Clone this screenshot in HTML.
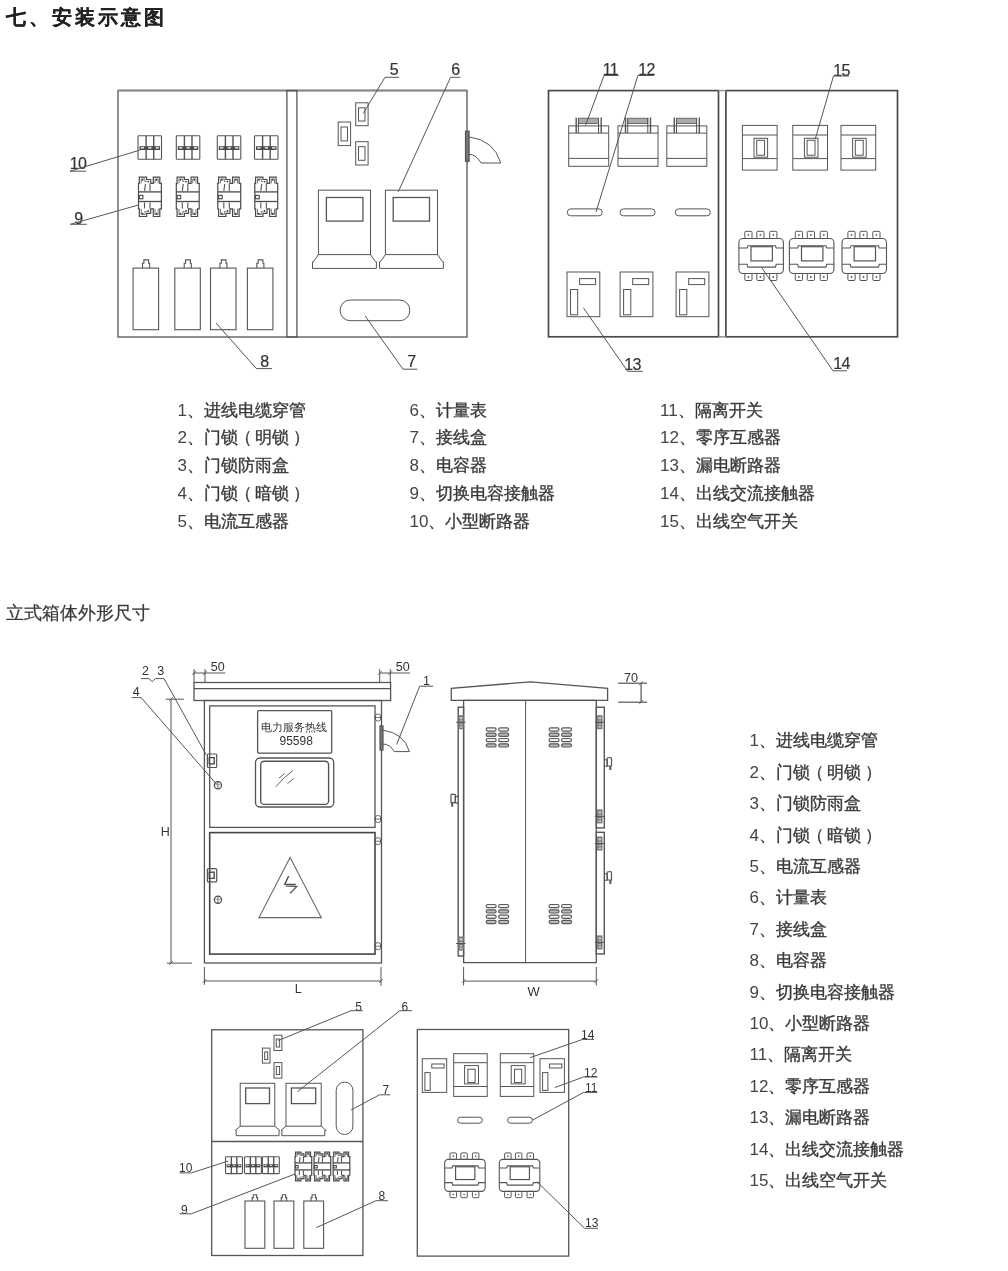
<!DOCTYPE html>
<html><head><meta charset="utf-8"><style>
html,body{margin:0;padding:0;background:#fff;}
body{width:1008px;height:1271px;overflow:hidden;position:relative;}
svg{position:absolute;left:0;top:0;will-change:transform;}
text{font-family:"Liberation Sans",sans-serif;}
.ns *{vector-effect:non-scaling-stroke;}
</style></head><body>
<svg width="1008" height="1271" viewBox="0 0 1008 1271">
<text x="6" y="24" font-size="20" fill="#222" font-weight="bold" text-anchor="start" letter-spacing="3" stroke="#222" stroke-width="0.12">七、安装示意图</text>
<rect x="118" y="90.5" width="349" height="246.5" rx="0" fill="none" stroke="#555" stroke-width="1.3"/>
<line x1="118" y1="90.5" x2="467" y2="90.5" stroke="#888" stroke-width="1.8"/>
<rect x="286.9" y="90.6" width="10.0" height="246.4" rx="0" fill="none" stroke="#555" stroke-width="1.3"/>
<rect x="138" y="135.8" width="23.5" height="23.5" rx="0.8" fill="none" stroke="#555" stroke-width="1.1"/>
<line x1="146.1" y1="135.8" x2="146.1" y2="159.3" stroke="#555" stroke-width="1.4"/>
<line x1="153.7" y1="135.8" x2="153.7" y2="159.3" stroke="#555" stroke-width="1.4"/>
<rect x="139.5" y="146.20000000000002" width="20.5" height="3.8" fill="#4a4a4a"/>
<rect x="140.8" y="147.0" width="3.2" height="1.6" fill="#ddd"/>
<rect x="148.3" y="147.0" width="3.2" height="1.6" fill="#ddd"/>
<rect x="155.7" y="147.0" width="3.2" height="1.6" fill="#ddd"/>
<rect x="176.3" y="135.8" width="23.5" height="23.5" rx="0.8" fill="none" stroke="#555" stroke-width="1.1"/>
<line x1="184.4" y1="135.8" x2="184.4" y2="159.3" stroke="#555" stroke-width="1.4"/>
<line x1="192.0" y1="135.8" x2="192.0" y2="159.3" stroke="#555" stroke-width="1.4"/>
<rect x="177.8" y="146.20000000000002" width="20.5" height="3.8" fill="#4a4a4a"/>
<rect x="179.10000000000002" y="147.0" width="3.2" height="1.6" fill="#ddd"/>
<rect x="186.60000000000002" y="147.0" width="3.2" height="1.6" fill="#ddd"/>
<rect x="194.0" y="147.0" width="3.2" height="1.6" fill="#ddd"/>
<rect x="217.3" y="135.8" width="23.5" height="23.5" rx="0.8" fill="none" stroke="#555" stroke-width="1.1"/>
<line x1="225.4" y1="135.8" x2="225.4" y2="159.3" stroke="#555" stroke-width="1.4"/>
<line x1="233.0" y1="135.8" x2="233.0" y2="159.3" stroke="#555" stroke-width="1.4"/>
<rect x="218.8" y="146.20000000000002" width="20.5" height="3.8" fill="#4a4a4a"/>
<rect x="220.10000000000002" y="147.0" width="3.2" height="1.6" fill="#ddd"/>
<rect x="227.60000000000002" y="147.0" width="3.2" height="1.6" fill="#ddd"/>
<rect x="235.0" y="147.0" width="3.2" height="1.6" fill="#ddd"/>
<rect x="254.5" y="135.8" width="23.5" height="23.5" rx="0.8" fill="none" stroke="#555" stroke-width="1.1"/>
<line x1="262.6" y1="135.8" x2="262.6" y2="159.3" stroke="#555" stroke-width="1.4"/>
<line x1="270.2" y1="135.8" x2="270.2" y2="159.3" stroke="#555" stroke-width="1.4"/>
<rect x="256.0" y="146.20000000000002" width="20.5" height="3.8" fill="#4a4a4a"/>
<rect x="257.3" y="147.0" width="3.2" height="1.6" fill="#ddd"/>
<rect x="264.8" y="147.0" width="3.2" height="1.6" fill="#ddd"/>
<rect x="272.2" y="147.0" width="3.2" height="1.6" fill="#ddd"/>
<path d="M138.5,183.4 L139.3,183.4 L139.3,177.1 L146.6,177.1 L146.6,179.5 L150.7,179.5 L150.7,183.4 L153.3,183.4 L153.3,177.1 L159.8,177.1 L159.8,183.4 L161.4,183.4 L161.4,208.8 L159.8,208.8 L159.8,216.5 L153.3,216.5 L153.3,208.8 L150.7,208.8 L150.7,213.3 L146.6,213.3 L146.6,216.5 L139.3,216.5 L139.3,208.8 L138.5,208.8 Z" fill="none" stroke="#4a4a4a" stroke-width="1.2"/>
<path d="M141.2,183.4 L141.2,179.0 L145.0,179.0 L145.0,181.5 L146.6,181.5" fill="none" stroke="#666" stroke-width="0.9"/>
<path d="M155.0,183.4 L155.0,179.0 L158.2,179.0 L158.2,183.4" fill="none" stroke="#666" stroke-width="0.9"/>
<path d="M141.2,208.8 L141.2,214.6 L145.0,214.6 L145.0,211.5 L146.6,211.5" fill="none" stroke="#666" stroke-width="0.9"/>
<path d="M155.0,208.8 L155.0,214.6 L158.2,214.6 L158.2,208.8" fill="none" stroke="#666" stroke-width="0.9"/>
<line x1="138.5" y1="191.9" x2="161.4" y2="191.9" stroke="#4a4a4a" stroke-width="1.3"/>
<line x1="138.5" y1="201.5" x2="161.4" y2="201.5" stroke="#4a4a4a" stroke-width="1.3"/>
<rect x="139.3" y="195.4" width="3.6" height="3.4" rx="0" fill="none" stroke="#444" stroke-width="1.1"/>
<line x1="145.5" y1="183.9" x2="144.5" y2="190.9" stroke="#555" stroke-width="1.1"/>
<line x1="150.0" y1="183.4" x2="150.0" y2="190.9" stroke="#555" stroke-width="1.1"/>
<line x1="144.5" y1="202.4" x2="144.5" y2="208.4" stroke="#555" stroke-width="1.1"/>
<line x1="150.0" y1="202.4" x2="150.0" y2="208.4" stroke="#555" stroke-width="1.1"/>
<circle cx="142.6" cy="179.8" r="0.9" fill="#333"/>
<circle cx="148.2" cy="181.6" r="0.9" fill="#333"/>
<circle cx="156.5" cy="179.8" r="0.9" fill="#333"/>
<circle cx="142.6" cy="213.6" r="0.9" fill="#333"/>
<circle cx="148.2" cy="211.0" r="0.9" fill="#333"/>
<circle cx="156.5" cy="213.6" r="0.9" fill="#333"/>
<path d="M176.3,183.4 L177.1,183.4 L177.1,177.1 L184.4,177.1 L184.4,179.5 L188.5,179.5 L188.5,183.4 L191.1,183.4 L191.1,177.1 L197.6,177.1 L197.6,183.4 L199.2,183.4 L199.2,208.8 L197.6,208.8 L197.6,216.5 L191.1,216.5 L191.1,208.8 L188.5,208.8 L188.5,213.3 L184.4,213.3 L184.4,216.5 L177.1,216.5 L177.1,208.8 L176.3,208.8 Z" fill="none" stroke="#4a4a4a" stroke-width="1.2"/>
<path d="M179.0,183.4 L179.0,179.0 L182.8,179.0 L182.8,181.5 L184.4,181.5" fill="none" stroke="#666" stroke-width="0.9"/>
<path d="M192.8,183.4 L192.8,179.0 L196.0,179.0 L196.0,183.4" fill="none" stroke="#666" stroke-width="0.9"/>
<path d="M179.0,208.8 L179.0,214.6 L182.8,214.6 L182.8,211.5 L184.4,211.5" fill="none" stroke="#666" stroke-width="0.9"/>
<path d="M192.8,208.8 L192.8,214.6 L196.0,214.6 L196.0,208.8" fill="none" stroke="#666" stroke-width="0.9"/>
<line x1="176.3" y1="191.9" x2="199.20000000000002" y2="191.9" stroke="#4a4a4a" stroke-width="1.3"/>
<line x1="176.3" y1="201.5" x2="199.20000000000002" y2="201.5" stroke="#4a4a4a" stroke-width="1.3"/>
<rect x="177.10000000000002" y="195.4" width="3.6" height="3.4" rx="0" fill="none" stroke="#444" stroke-width="1.1"/>
<line x1="183.3" y1="183.9" x2="182.3" y2="190.9" stroke="#555" stroke-width="1.1"/>
<line x1="187.8" y1="183.4" x2="187.8" y2="190.9" stroke="#555" stroke-width="1.1"/>
<line x1="182.3" y1="202.4" x2="182.3" y2="208.4" stroke="#555" stroke-width="1.1"/>
<line x1="187.8" y1="202.4" x2="187.8" y2="208.4" stroke="#555" stroke-width="1.1"/>
<circle cx="180.4" cy="179.8" r="0.9" fill="#333"/>
<circle cx="186.0" cy="181.6" r="0.9" fill="#333"/>
<circle cx="194.3" cy="179.8" r="0.9" fill="#333"/>
<circle cx="180.4" cy="213.6" r="0.9" fill="#333"/>
<circle cx="186.0" cy="211.0" r="0.9" fill="#333"/>
<circle cx="194.3" cy="213.6" r="0.9" fill="#333"/>
<path d="M217.8,183.4 L218.6,183.4 L218.6,177.1 L225.9,177.1 L225.9,179.5 L230.0,179.5 L230.0,183.4 L232.6,183.4 L232.6,177.1 L239.1,177.1 L239.1,183.4 L240.7,183.4 L240.7,208.8 L239.1,208.8 L239.1,216.5 L232.6,216.5 L232.6,208.8 L230.0,208.8 L230.0,213.3 L225.9,213.3 L225.9,216.5 L218.6,216.5 L218.6,208.8 L217.8,208.8 Z" fill="none" stroke="#4a4a4a" stroke-width="1.2"/>
<path d="M220.5,183.4 L220.5,179.0 L224.3,179.0 L224.3,181.5 L225.9,181.5" fill="none" stroke="#666" stroke-width="0.9"/>
<path d="M234.3,183.4 L234.3,179.0 L237.5,179.0 L237.5,183.4" fill="none" stroke="#666" stroke-width="0.9"/>
<path d="M220.5,208.8 L220.5,214.6 L224.3,214.6 L224.3,211.5 L225.9,211.5" fill="none" stroke="#666" stroke-width="0.9"/>
<path d="M234.3,208.8 L234.3,214.6 L237.5,214.6 L237.5,208.8" fill="none" stroke="#666" stroke-width="0.9"/>
<line x1="217.8" y1="191.9" x2="240.70000000000002" y2="191.9" stroke="#4a4a4a" stroke-width="1.3"/>
<line x1="217.8" y1="201.5" x2="240.70000000000002" y2="201.5" stroke="#4a4a4a" stroke-width="1.3"/>
<rect x="218.60000000000002" y="195.4" width="3.6" height="3.4" rx="0" fill="none" stroke="#444" stroke-width="1.1"/>
<line x1="224.8" y1="183.9" x2="223.8" y2="190.9" stroke="#555" stroke-width="1.1"/>
<line x1="229.3" y1="183.4" x2="229.3" y2="190.9" stroke="#555" stroke-width="1.1"/>
<line x1="223.8" y1="202.4" x2="223.8" y2="208.4" stroke="#555" stroke-width="1.1"/>
<line x1="229.3" y1="202.4" x2="229.3" y2="208.4" stroke="#555" stroke-width="1.1"/>
<circle cx="221.9" cy="179.8" r="0.9" fill="#333"/>
<circle cx="227.5" cy="181.6" r="0.9" fill="#333"/>
<circle cx="235.8" cy="179.8" r="0.9" fill="#333"/>
<circle cx="221.9" cy="213.6" r="0.9" fill="#333"/>
<circle cx="227.5" cy="211.0" r="0.9" fill="#333"/>
<circle cx="235.8" cy="213.6" r="0.9" fill="#333"/>
<path d="M254.8,183.4 L255.6,183.4 L255.6,177.1 L262.9,177.1 L262.9,179.5 L267.0,179.5 L267.0,183.4 L269.6,183.4 L269.6,177.1 L276.1,177.1 L276.1,183.4 L277.7,183.4 L277.7,208.8 L276.1,208.8 L276.1,216.5 L269.6,216.5 L269.6,208.8 L267.0,208.8 L267.0,213.3 L262.9,213.3 L262.9,216.5 L255.6,216.5 L255.6,208.8 L254.8,208.8 Z" fill="none" stroke="#4a4a4a" stroke-width="1.2"/>
<path d="M257.5,183.4 L257.5,179.0 L261.3,179.0 L261.3,181.5 L262.9,181.5" fill="none" stroke="#666" stroke-width="0.9"/>
<path d="M271.3,183.4 L271.3,179.0 L274.5,179.0 L274.5,183.4" fill="none" stroke="#666" stroke-width="0.9"/>
<path d="M257.5,208.8 L257.5,214.6 L261.3,214.6 L261.3,211.5 L262.9,211.5" fill="none" stroke="#666" stroke-width="0.9"/>
<path d="M271.3,208.8 L271.3,214.6 L274.5,214.6 L274.5,208.8" fill="none" stroke="#666" stroke-width="0.9"/>
<line x1="254.8" y1="191.9" x2="277.7" y2="191.9" stroke="#4a4a4a" stroke-width="1.3"/>
<line x1="254.8" y1="201.5" x2="277.7" y2="201.5" stroke="#4a4a4a" stroke-width="1.3"/>
<rect x="255.60000000000002" y="195.4" width="3.6" height="3.4" rx="0" fill="none" stroke="#444" stroke-width="1.1"/>
<line x1="261.8" y1="183.9" x2="260.8" y2="190.9" stroke="#555" stroke-width="1.1"/>
<line x1="266.3" y1="183.4" x2="266.3" y2="190.9" stroke="#555" stroke-width="1.1"/>
<line x1="260.8" y1="202.4" x2="260.8" y2="208.4" stroke="#555" stroke-width="1.1"/>
<line x1="266.3" y1="202.4" x2="266.3" y2="208.4" stroke="#555" stroke-width="1.1"/>
<circle cx="258.9" cy="179.8" r="0.9" fill="#333"/>
<circle cx="264.5" cy="181.6" r="0.9" fill="#333"/>
<circle cx="272.8" cy="179.8" r="0.9" fill="#333"/>
<circle cx="258.9" cy="213.6" r="0.9" fill="#333"/>
<circle cx="264.5" cy="211.0" r="0.9" fill="#333"/>
<circle cx="272.8" cy="213.6" r="0.9" fill="#333"/>
<rect x="133.1" y="268.1" width="25.5" height="61.6" rx="0" fill="none" stroke="#555" stroke-width="1.1"/>
<path d="M142.5,268.1 L142.5,263.3 L143.9,263.3 L143.9,259.9 L148.6,259.9 L148.6,263.3 L149.6,263.3 L149.6,268.1" fill="none" stroke="#555" stroke-width="1.1"/>
<rect x="174.8" y="268.1" width="25.5" height="61.6" rx="0" fill="none" stroke="#555" stroke-width="1.1"/>
<path d="M184.20000000000002,268.1 L184.20000000000002,263.3 L185.60000000000002,263.3 L185.60000000000002,259.9 L190.3,259.9 L190.3,263.3 L191.3,263.3 L191.3,268.1" fill="none" stroke="#555" stroke-width="1.1"/>
<rect x="210.5" y="268.1" width="25.5" height="61.6" rx="0" fill="none" stroke="#555" stroke-width="1.1"/>
<path d="M219.9,268.1 L219.9,263.3 L221.3,263.3 L221.3,259.9 L226.0,259.9 L226.0,263.3 L227.0,263.3 L227.0,268.1" fill="none" stroke="#555" stroke-width="1.1"/>
<rect x="247.4" y="268.1" width="25.5" height="61.6" rx="0" fill="none" stroke="#555" stroke-width="1.1"/>
<path d="M256.8,268.1 L256.8,263.3 L258.2,263.3 L258.2,259.9 L262.9,259.9 L262.9,263.3 L263.9,263.3 L263.9,268.1" fill="none" stroke="#555" stroke-width="1.1"/>
<rect x="355.7" y="102.8" width="12.4" height="22.9" rx="0" fill="none" stroke="#555" stroke-width="1"/>
<rect x="358.5" y="107.8" width="6.5" height="13.2" rx="0" fill="none" stroke="#555" stroke-width="1"/>
<rect x="338.2" y="122" width="12.4" height="23.6" rx="0" fill="none" stroke="#555" stroke-width="1"/>
<rect x="341.0" y="127" width="6.5" height="13.9" rx="0" fill="none" stroke="#555" stroke-width="1"/>
<rect x="355.7" y="141.7" width="12.4" height="23.3" rx="0" fill="none" stroke="#555" stroke-width="1"/>
<rect x="358.5" y="146.7" width="6.5" height="13.6" rx="0" fill="none" stroke="#555" stroke-width="1"/>
<rect x="318.4" y="190.2" width="52.1" height="64.4" rx="0" fill="none" stroke="#555" stroke-width="1"/>
<rect x="326.4" y="197.5" width="36.5" height="23.6" rx="0" fill="none" stroke="#555" stroke-width="1.3"/>
<path d="M318.4,254.6 L313.4,261.8 L312.5,261.8 L312.5,268.4 L376.4,268.4 L376.4,261.8 L375.5,261.8 L370.5,254.6" fill="none" stroke="#555" stroke-width="1"/>
<rect x="385.4" y="190.2" width="52.1" height="64.4" rx="0" fill="none" stroke="#555" stroke-width="1"/>
<rect x="393.2" y="197.5" width="36.3" height="23.6" rx="0" fill="none" stroke="#555" stroke-width="1.3"/>
<path d="M385.4,254.6 L380.4,261.8 L379.5,261.8 L379.5,268.4 L443.4,268.4 L443.4,261.8 L442.5,261.8 L437.5,254.6" fill="none" stroke="#555" stroke-width="1"/>
<rect x="340.2" y="300" width="69.6" height="20.7" rx="10" fill="none" stroke="#555" stroke-width="1"/>
<rect x="465.5" y="131.2" width="3.6" height="30.1" rx="0" fill="#777" stroke="#555" stroke-width="1.2"/>
<path d="M469,136.9 Q494,140 500.8,163 L481.1,163 Q476,154.3 469,154.3" fill="none" stroke="#555" stroke-width="1"/>
<text x="389.7" y="74.5" font-size="16" fill="#333" font-weight="normal" text-anchor="start" letter-spacing="0" stroke="#333" stroke-width="0.2">5</text>
<line x1="385" y1="77.3" x2="399.3" y2="77.3" stroke="#555" stroke-width="1"/>
<line x1="385" y1="77.3" x2="363.3" y2="113.3" stroke="#555" stroke-width="1"/>
<text x="451.2" y="74.5" font-size="16" fill="#333" font-weight="normal" text-anchor="start" letter-spacing="0" stroke="#333" stroke-width="0.2">6</text>
<line x1="450.6" y1="77.3" x2="460.4" y2="77.3" stroke="#555" stroke-width="1"/>
<line x1="450.6" y1="77.3" x2="398.2" y2="191.9" stroke="#555" stroke-width="1"/>
<text x="69.7" y="168.7" font-size="16" fill="#333" font-weight="normal" text-anchor="start" letter-spacing="-0.6" stroke="#333" stroke-width="0.2">10</text>
<line x1="70" y1="171.2" x2="86.2" y2="171.2" stroke="#555" stroke-width="1"/>
<line x1="70" y1="171.2" x2="139.7" y2="150.2" stroke="#555" stroke-width="1"/>
<text x="74.2" y="224" font-size="16" fill="#333" font-weight="normal" text-anchor="start" letter-spacing="0" stroke="#333" stroke-width="0.2">9</text>
<line x1="70.4" y1="224.3" x2="86.7" y2="224.3" stroke="#555" stroke-width="1"/>
<line x1="70.4" y1="224.3" x2="138.3" y2="205" stroke="#555" stroke-width="1"/>
<text x="260.2" y="366.5" font-size="16" fill="#333" font-weight="normal" text-anchor="start" letter-spacing="0" stroke="#333" stroke-width="0.2">8</text>
<line x1="256.4" y1="368.6" x2="271.9" y2="368.6" stroke="#555" stroke-width="1"/>
<line x1="256.4" y1="368.6" x2="216" y2="323" stroke="#555" stroke-width="1"/>
<text x="407.2" y="367.1" font-size="16" fill="#333" font-weight="normal" text-anchor="start" letter-spacing="0" stroke="#333" stroke-width="0.2">7</text>
<line x1="403" y1="369.2" x2="417.3" y2="369.2" stroke="#555" stroke-width="1"/>
<line x1="403" y1="369.2" x2="365.2" y2="316" stroke="#555" stroke-width="1"/>
<rect x="548.5" y="90.6" width="170.0" height="246.2" rx="0" fill="none" stroke="#4a4a4a" stroke-width="1.7"/>
<rect x="725.9" y="90.6" width="171.6" height="246.2" rx="0" fill="none" stroke="#4a4a4a" stroke-width="1.7"/>
<line x1="718.5" y1="90.6" x2="725.9" y2="90.6" stroke="#999" stroke-width="1.6"/>
<line x1="718.5" y1="336.8" x2="725.9" y2="336.8" stroke="#999" stroke-width="1.6"/>
<rect x="568.7" y="125.9" width="40.0" height="40.4" rx="0" fill="none" stroke="#555" stroke-width="1"/>
<line x1="568.7" y1="133.1" x2="608.7" y2="133.1" stroke="#555" stroke-width="1"/>
<line x1="568.7" y1="158.4" x2="608.7" y2="158.4" stroke="#555" stroke-width="1"/>
<rect x="578.4000000000001" y="118.2" width="20.1" height="5.4" rx="0" fill="#aaa" stroke="#555" stroke-width="0.8"/>
<line x1="576.2" y1="117.4" x2="576.2" y2="133.1" stroke="#555" stroke-width="1.4"/>
<line x1="601.2" y1="117.4" x2="601.2" y2="133.1" stroke="#555" stroke-width="1.4"/>
<line x1="578.4000000000001" y1="118" x2="578.4000000000001" y2="133.1" stroke="#555" stroke-width="1"/>
<line x1="598.5" y1="118" x2="598.5" y2="133.1" stroke="#555" stroke-width="1"/>
<rect x="618" y="125.9" width="40" height="40.4" rx="0" fill="none" stroke="#555" stroke-width="1"/>
<line x1="618" y1="133.1" x2="658" y2="133.1" stroke="#555" stroke-width="1"/>
<line x1="618" y1="158.4" x2="658" y2="158.4" stroke="#555" stroke-width="1"/>
<rect x="627.7" y="118.2" width="20.1" height="5.4" rx="0" fill="#aaa" stroke="#555" stroke-width="0.8"/>
<line x1="625.5" y1="117.4" x2="625.5" y2="133.1" stroke="#555" stroke-width="1.4"/>
<line x1="650.5" y1="117.4" x2="650.5" y2="133.1" stroke="#555" stroke-width="1.4"/>
<line x1="627.7" y1="118" x2="627.7" y2="133.1" stroke="#555" stroke-width="1"/>
<line x1="647.8" y1="118" x2="647.8" y2="133.1" stroke="#555" stroke-width="1"/>
<rect x="666.8" y="125.9" width="40.0" height="40.4" rx="0" fill="none" stroke="#555" stroke-width="1"/>
<line x1="666.8" y1="133.1" x2="706.8" y2="133.1" stroke="#555" stroke-width="1"/>
<line x1="666.8" y1="158.4" x2="706.8" y2="158.4" stroke="#555" stroke-width="1"/>
<rect x="676.5" y="118.2" width="20.1" height="5.4" rx="0" fill="#aaa" stroke="#555" stroke-width="0.8"/>
<line x1="674.3" y1="117.4" x2="674.3" y2="133.1" stroke="#555" stroke-width="1.4"/>
<line x1="699.3" y1="117.4" x2="699.3" y2="133.1" stroke="#555" stroke-width="1.4"/>
<line x1="676.5" y1="118" x2="676.5" y2="133.1" stroke="#555" stroke-width="1"/>
<line x1="696.5999999999999" y1="118" x2="696.5999999999999" y2="133.1" stroke="#555" stroke-width="1"/>
<rect x="567.3" y="208.9" width="35.0" height="6.9" rx="3.4" fill="none" stroke="#555" stroke-width="1"/>
<rect x="620.1" y="208.9" width="35.0" height="6.9" rx="3.4" fill="none" stroke="#555" stroke-width="1"/>
<rect x="675.3" y="208.9" width="35.0" height="6.9" rx="3.4" fill="none" stroke="#555" stroke-width="1"/>
<rect x="567" y="272" width="32.8" height="44.7" rx="0" fill="none" stroke="#555" stroke-width="1"/>
<rect x="579.6" y="278.6" width="16.0" height="6.0" rx="0" fill="none" stroke="#555" stroke-width="1"/>
<rect x="570.5" y="289.5" width="7.2" height="25.3" rx="0" fill="none" stroke="#555" stroke-width="1"/>
<rect x="620.1" y="272" width="32.8" height="44.7" rx="0" fill="none" stroke="#555" stroke-width="1"/>
<rect x="632.7" y="278.6" width="16.0" height="6.0" rx="0" fill="none" stroke="#555" stroke-width="1"/>
<rect x="623.6" y="289.5" width="7.2" height="25.3" rx="0" fill="none" stroke="#555" stroke-width="1"/>
<rect x="676.1" y="272" width="32.8" height="44.7" rx="0" fill="none" stroke="#555" stroke-width="1"/>
<rect x="688.7" y="278.6" width="16.0" height="6.0" rx="0" fill="none" stroke="#555" stroke-width="1"/>
<rect x="679.6" y="289.5" width="7.2" height="25.3" rx="0" fill="none" stroke="#555" stroke-width="1"/>
<rect x="742.4" y="125.4" width="34.7" height="44.7" rx="0" fill="none" stroke="#555" stroke-width="1"/>
<line x1="742.4" y1="135" x2="777.1" y2="135" stroke="#555" stroke-width="1"/>
<line x1="742.4" y1="158.6" x2="777.1" y2="158.6" stroke="#555" stroke-width="1"/>
<rect x="754.0" y="138.3" width="13.6" height="18.9" rx="0" fill="none" stroke="#555" stroke-width="1"/>
<rect x="756.6999999999999" y="140.3" width="7.9" height="14.9" rx="0" fill="none" stroke="#555" stroke-width="1"/>
<rect x="792.8" y="125.4" width="34.7" height="44.7" rx="0" fill="none" stroke="#555" stroke-width="1"/>
<line x1="792.8" y1="135" x2="827.5" y2="135" stroke="#555" stroke-width="1"/>
<line x1="792.8" y1="158.6" x2="827.5" y2="158.6" stroke="#555" stroke-width="1"/>
<rect x="804.4" y="138.3" width="13.6" height="18.9" rx="0" fill="none" stroke="#555" stroke-width="1"/>
<rect x="807.0999999999999" y="140.3" width="7.9" height="14.9" rx="0" fill="none" stroke="#555" stroke-width="1"/>
<rect x="841" y="125.4" width="34.7" height="44.7" rx="0" fill="none" stroke="#555" stroke-width="1"/>
<line x1="841" y1="135" x2="875.7" y2="135" stroke="#555" stroke-width="1"/>
<line x1="841" y1="158.6" x2="875.7" y2="158.6" stroke="#555" stroke-width="1"/>
<rect x="852.6" y="138.3" width="13.6" height="18.9" rx="0" fill="none" stroke="#555" stroke-width="1"/>
<rect x="855.3" y="140.3" width="7.9" height="14.9" rx="0" fill="none" stroke="#555" stroke-width="1"/>
<rect x="738.9" y="238.5" width="44.5" height="35.0" rx="4.0" fill="none" stroke="#555" stroke-width="1.1"/>
<path d="M738.9,248.0 L747.1,248.0 L747.9,245.7 L775.4,245.7 L776.1999999999999,248.0 L783.4,248.0" fill="none" stroke="#555" stroke-width="1.1"/>
<path d="M738.9,264.3 L747.1,264.3 L747.9,267.1 L775.4,267.1 L776.1999999999999,264.3 L783.4,264.3" fill="none" stroke="#555" stroke-width="1.1"/>
<rect x="751.0" y="246.7" width="21.4" height="14.2" rx="0" fill="none" stroke="#555" stroke-width="1.2"/>
<rect x="744.8" y="231.3" width="7.2" height="7.2" rx="1" fill="none" stroke="#555" stroke-width="1"/>
<rect x="744.8" y="273.5" width="7.2" height="7.0" rx="1" fill="none" stroke="#555" stroke-width="1"/>
<circle cx="748.4" cy="234.9" r="0.9" fill="#555"/>
<circle cx="748.4" cy="277.0" r="0.9" fill="#555"/>
<rect x="756.8" y="231.3" width="7.2" height="7.2" rx="1" fill="none" stroke="#555" stroke-width="1"/>
<rect x="756.8" y="273.5" width="7.2" height="7.0" rx="1" fill="none" stroke="#555" stroke-width="1"/>
<circle cx="760.4" cy="234.9" r="0.9" fill="#555"/>
<circle cx="760.4" cy="277.0" r="0.9" fill="#555"/>
<rect x="769.6999999999999" y="231.3" width="7.2" height="7.2" rx="1" fill="none" stroke="#555" stroke-width="1"/>
<rect x="769.6999999999999" y="273.5" width="7.2" height="7.0" rx="1" fill="none" stroke="#555" stroke-width="1"/>
<circle cx="773.3" cy="234.9" r="0.9" fill="#555"/>
<circle cx="773.3" cy="277.0" r="0.9" fill="#555"/>
<rect x="789.4" y="238.5" width="44.5" height="35.0" rx="4.0" fill="none" stroke="#555" stroke-width="1.1"/>
<path d="M789.4,248.0 L797.6,248.0 L798.4,245.7 L825.9,245.7 L826.6999999999999,248.0 L833.9,248.0" fill="none" stroke="#555" stroke-width="1.1"/>
<path d="M789.4,264.3 L797.6,264.3 L798.4,267.1 L825.9,267.1 L826.6999999999999,264.3 L833.9,264.3" fill="none" stroke="#555" stroke-width="1.1"/>
<rect x="801.5" y="246.7" width="21.4" height="14.2" rx="0" fill="none" stroke="#555" stroke-width="1.2"/>
<rect x="795.3" y="231.3" width="7.2" height="7.2" rx="1" fill="none" stroke="#555" stroke-width="1"/>
<rect x="795.3" y="273.5" width="7.2" height="7.0" rx="1" fill="none" stroke="#555" stroke-width="1"/>
<circle cx="798.9" cy="234.9" r="0.9" fill="#555"/>
<circle cx="798.9" cy="277.0" r="0.9" fill="#555"/>
<rect x="807.3" y="231.3" width="7.2" height="7.2" rx="1" fill="none" stroke="#555" stroke-width="1"/>
<rect x="807.3" y="273.5" width="7.2" height="7.0" rx="1" fill="none" stroke="#555" stroke-width="1"/>
<circle cx="810.9" cy="234.9" r="0.9" fill="#555"/>
<circle cx="810.9" cy="277.0" r="0.9" fill="#555"/>
<rect x="820.1999999999999" y="231.3" width="7.2" height="7.2" rx="1" fill="none" stroke="#555" stroke-width="1"/>
<rect x="820.1999999999999" y="273.5" width="7.2" height="7.0" rx="1" fill="none" stroke="#555" stroke-width="1"/>
<circle cx="823.8" cy="234.9" r="0.9" fill="#555"/>
<circle cx="823.8" cy="277.0" r="0.9" fill="#555"/>
<rect x="842" y="238.5" width="44.5" height="35.0" rx="4.0" fill="none" stroke="#555" stroke-width="1.1"/>
<path d="M842,248.0 L850.2,248.0 L851.0,245.7 L878.5,245.7 L879.3,248.0 L886.5,248.0" fill="none" stroke="#555" stroke-width="1.1"/>
<path d="M842,264.3 L850.2,264.3 L851.0,267.1 L878.5,267.1 L879.3,264.3 L886.5,264.3" fill="none" stroke="#555" stroke-width="1.1"/>
<rect x="854.1" y="246.7" width="21.4" height="14.2" rx="0" fill="none" stroke="#555" stroke-width="1.2"/>
<rect x="847.9" y="231.3" width="7.2" height="7.2" rx="1" fill="none" stroke="#555" stroke-width="1"/>
<rect x="847.9" y="273.5" width="7.2" height="7.0" rx="1" fill="none" stroke="#555" stroke-width="1"/>
<circle cx="851.5" cy="234.9" r="0.9" fill="#555"/>
<circle cx="851.5" cy="277.0" r="0.9" fill="#555"/>
<rect x="859.9" y="231.3" width="7.2" height="7.2" rx="1" fill="none" stroke="#555" stroke-width="1"/>
<rect x="859.9" y="273.5" width="7.2" height="7.0" rx="1" fill="none" stroke="#555" stroke-width="1"/>
<circle cx="863.5" cy="234.9" r="0.9" fill="#555"/>
<circle cx="863.5" cy="277.0" r="0.9" fill="#555"/>
<rect x="872.8" y="231.3" width="7.2" height="7.2" rx="1" fill="none" stroke="#555" stroke-width="1"/>
<rect x="872.8" y="273.5" width="7.2" height="7.0" rx="1" fill="none" stroke="#555" stroke-width="1"/>
<circle cx="876.4" cy="234.9" r="0.9" fill="#555"/>
<circle cx="876.4" cy="277.0" r="0.9" fill="#555"/>
<text x="602.7" y="74.6" font-size="16" fill="#333" font-weight="normal" text-anchor="start" letter-spacing="-0.6" stroke="#333" stroke-width="0.2">11</text>
<line x1="604" y1="75.5" x2="618.6" y2="75.5" stroke="#555" stroke-width="1"/>
<line x1="604" y1="75.5" x2="585.5" y2="125.5" stroke="#555" stroke-width="1"/>
<text x="638.2" y="74.6" font-size="16" fill="#333" font-weight="normal" text-anchor="start" letter-spacing="-0.6" stroke="#333" stroke-width="0.2">12</text>
<line x1="637.9" y1="75.5" x2="654" y2="75.5" stroke="#555" stroke-width="1"/>
<line x1="637.9" y1="75.5" x2="596" y2="212" stroke="#555" stroke-width="1"/>
<text x="624.2" y="370" font-size="16" fill="#333" font-weight="normal" text-anchor="start" letter-spacing="-0.6" stroke="#333" stroke-width="0.2">13</text>
<line x1="627.7" y1="371.3" x2="642.7" y2="371.3" stroke="#555" stroke-width="1"/>
<line x1="627.7" y1="371.3" x2="583.4" y2="307.8" stroke="#555" stroke-width="1"/>
<text x="833.2" y="75.5" font-size="16" fill="#333" font-weight="normal" text-anchor="start" letter-spacing="-0.6" stroke="#333" stroke-width="0.2">15</text>
<line x1="833.5" y1="76" x2="849" y2="76" stroke="#555" stroke-width="1"/>
<line x1="833.5" y1="76" x2="815.2" y2="139.3" stroke="#555" stroke-width="1"/>
<text x="833.2" y="368.7" font-size="16" fill="#333" font-weight="normal" text-anchor="start" letter-spacing="-0.6" stroke="#333" stroke-width="0.2">14</text>
<line x1="833" y1="370.8" x2="847" y2="370.8" stroke="#555" stroke-width="1"/>
<line x1="833" y1="370.8" x2="761.6" y2="267.5" stroke="#555" stroke-width="1"/>
<text x="177.5" y="415.5" font-size="17" fill="#3a3a3a" font-weight="normal" text-anchor="start" letter-spacing="0" stroke="#3a3a3a" stroke-width="0.35"><tspan stroke="none" fill="#444">1</tspan>、进线电缆穿管</text>
<text x="409.5" y="415.5" font-size="17" fill="#3a3a3a" font-weight="normal" text-anchor="start" letter-spacing="0" stroke="#3a3a3a" stroke-width="0.35"><tspan stroke="none" fill="#444">6</tspan>、计量表</text>
<text x="660" y="415.5" font-size="17" fill="#3a3a3a" font-weight="normal" text-anchor="start" letter-spacing="0" stroke="#3a3a3a" stroke-width="0.35"><tspan stroke="none" fill="#444">11</tspan>、隔离开关</text>
<text x="177.5" y="443.3" font-size="17" fill="#3a3a3a" font-weight="normal" text-anchor="start" letter-spacing="0" stroke="#3a3a3a" stroke-width="0.35"><tspan stroke="none" fill="#444">2</tspan>、门锁<tspan dx="-3">（</tspan><tspan dx="3">明锁</tspan><tspan dx="4">）</tspan></text>
<text x="409.5" y="443.3" font-size="17" fill="#3a3a3a" font-weight="normal" text-anchor="start" letter-spacing="0" stroke="#3a3a3a" stroke-width="0.35"><tspan stroke="none" fill="#444">7</tspan>、接线盒</text>
<text x="660" y="443.3" font-size="17" fill="#3a3a3a" font-weight="normal" text-anchor="start" letter-spacing="0" stroke="#3a3a3a" stroke-width="0.35"><tspan stroke="none" fill="#444">12</tspan>、零序互感器</text>
<text x="177.5" y="471.1" font-size="17" fill="#3a3a3a" font-weight="normal" text-anchor="start" letter-spacing="0" stroke="#3a3a3a" stroke-width="0.35"><tspan stroke="none" fill="#444">3</tspan>、门锁防雨盒</text>
<text x="409.5" y="471.1" font-size="17" fill="#3a3a3a" font-weight="normal" text-anchor="start" letter-spacing="0" stroke="#3a3a3a" stroke-width="0.35"><tspan stroke="none" fill="#444">8</tspan>、电容器</text>
<text x="660" y="471.1" font-size="17" fill="#3a3a3a" font-weight="normal" text-anchor="start" letter-spacing="0" stroke="#3a3a3a" stroke-width="0.35"><tspan stroke="none" fill="#444">13</tspan>、漏电断路器</text>
<text x="177.5" y="498.9" font-size="17" fill="#3a3a3a" font-weight="normal" text-anchor="start" letter-spacing="0" stroke="#3a3a3a" stroke-width="0.35"><tspan stroke="none" fill="#444">4</tspan>、门锁<tspan dx="-3">（</tspan><tspan dx="3">暗锁</tspan><tspan dx="4">）</tspan></text>
<text x="409.5" y="498.9" font-size="17" fill="#3a3a3a" font-weight="normal" text-anchor="start" letter-spacing="0" stroke="#3a3a3a" stroke-width="0.35"><tspan stroke="none" fill="#444">9</tspan>、切换电容接触器</text>
<text x="660" y="498.9" font-size="17" fill="#3a3a3a" font-weight="normal" text-anchor="start" letter-spacing="0" stroke="#3a3a3a" stroke-width="0.35"><tspan stroke="none" fill="#444">14</tspan>、出线交流接触器</text>
<text x="177.5" y="526.7" font-size="17" fill="#3a3a3a" font-weight="normal" text-anchor="start" letter-spacing="0" stroke="#3a3a3a" stroke-width="0.35"><tspan stroke="none" fill="#444">5</tspan>、电流互感器</text>
<text x="409.5" y="526.7" font-size="17" fill="#3a3a3a" font-weight="normal" text-anchor="start" letter-spacing="0" stroke="#3a3a3a" stroke-width="0.35"><tspan stroke="none" fill="#444">10</tspan>、小型断路器</text>
<text x="660" y="526.7" font-size="17" fill="#3a3a3a" font-weight="normal" text-anchor="start" letter-spacing="0" stroke="#3a3a3a" stroke-width="0.35"><tspan stroke="none" fill="#444">15</tspan>、出线空气开关</text>
<text x="6" y="619" font-size="17.5" fill="#3a3a3a" font-weight="normal" text-anchor="start" letter-spacing="0" stroke="#3a3a3a" stroke-width="0.25">立式箱体外形尺寸</text>
<text x="749.5" y="746.3" font-size="17" fill="#3a3a3a" font-weight="normal" text-anchor="start" letter-spacing="0" stroke="#3a3a3a" stroke-width="0.35"><tspan stroke="none" fill="#444">1</tspan>、进线电缆穿管</text>
<text x="749.5" y="777.6999999999999" font-size="17" fill="#3a3a3a" font-weight="normal" text-anchor="start" letter-spacing="0" stroke="#3a3a3a" stroke-width="0.35"><tspan stroke="none" fill="#444">2</tspan>、门锁<tspan dx="-3">（</tspan><tspan dx="3">明锁</tspan><tspan dx="4">）</tspan></text>
<text x="749.5" y="809.0999999999999" font-size="17" fill="#3a3a3a" font-weight="normal" text-anchor="start" letter-spacing="0" stroke="#3a3a3a" stroke-width="0.35"><tspan stroke="none" fill="#444">3</tspan>、门锁防雨盒</text>
<text x="749.5" y="840.5" font-size="17" fill="#3a3a3a" font-weight="normal" text-anchor="start" letter-spacing="0" stroke="#3a3a3a" stroke-width="0.35"><tspan stroke="none" fill="#444">4</tspan>、门锁<tspan dx="-3">（</tspan><tspan dx="3">暗锁</tspan><tspan dx="4">）</tspan></text>
<text x="749.5" y="871.9" font-size="17" fill="#3a3a3a" font-weight="normal" text-anchor="start" letter-spacing="0" stroke="#3a3a3a" stroke-width="0.35"><tspan stroke="none" fill="#444">5</tspan>、电流互感器</text>
<text x="749.5" y="903.3" font-size="17" fill="#3a3a3a" font-weight="normal" text-anchor="start" letter-spacing="0" stroke="#3a3a3a" stroke-width="0.35"><tspan stroke="none" fill="#444">6</tspan>、计量表</text>
<text x="749.5" y="934.6999999999999" font-size="17" fill="#3a3a3a" font-weight="normal" text-anchor="start" letter-spacing="0" stroke="#3a3a3a" stroke-width="0.35"><tspan stroke="none" fill="#444">7</tspan>、接线盒</text>
<text x="749.5" y="966.0999999999999" font-size="17" fill="#3a3a3a" font-weight="normal" text-anchor="start" letter-spacing="0" stroke="#3a3a3a" stroke-width="0.35"><tspan stroke="none" fill="#444">8</tspan>、电容器</text>
<text x="749.5" y="997.5" font-size="17" fill="#3a3a3a" font-weight="normal" text-anchor="start" letter-spacing="0" stroke="#3a3a3a" stroke-width="0.35"><tspan stroke="none" fill="#444">9</tspan>、切换电容接触器</text>
<text x="749.5" y="1028.8999999999999" font-size="17" fill="#3a3a3a" font-weight="normal" text-anchor="start" letter-spacing="0" stroke="#3a3a3a" stroke-width="0.35"><tspan stroke="none" fill="#444">10</tspan>、小型断路器</text>
<text x="749.5" y="1060.3" font-size="17" fill="#3a3a3a" font-weight="normal" text-anchor="start" letter-spacing="0" stroke="#3a3a3a" stroke-width="0.35"><tspan stroke="none" fill="#444">11</tspan>、隔离开关</text>
<text x="749.5" y="1091.6999999999998" font-size="17" fill="#3a3a3a" font-weight="normal" text-anchor="start" letter-spacing="0" stroke="#3a3a3a" stroke-width="0.35"><tspan stroke="none" fill="#444">12</tspan>、零序互感器</text>
<text x="749.5" y="1123.1" font-size="17" fill="#3a3a3a" font-weight="normal" text-anchor="start" letter-spacing="0" stroke="#3a3a3a" stroke-width="0.35"><tspan stroke="none" fill="#444">13</tspan>、漏电断路器</text>
<text x="749.5" y="1154.5" font-size="17" fill="#3a3a3a" font-weight="normal" text-anchor="start" letter-spacing="0" stroke="#3a3a3a" stroke-width="0.35"><tspan stroke="none" fill="#444">14</tspan>、出线交流接触器</text>
<text x="749.5" y="1185.8999999999999" font-size="17" fill="#3a3a3a" font-weight="normal" text-anchor="start" letter-spacing="0" stroke="#3a3a3a" stroke-width="0.35"><tspan stroke="none" fill="#444">15</tspan>、出线空气开关</text>
<rect x="194" y="682.5" width="196.6" height="18.0" rx="0" fill="none" stroke="#555" stroke-width="1.3"/>
<line x1="194" y1="688.6" x2="390.6" y2="688.6" stroke="#555" stroke-width="1.3"/>
<rect x="204.4" y="700.5" width="177.1" height="262.5" rx="0" fill="none" stroke="#555" stroke-width="1.3"/>
<rect x="209.7" y="705.9" width="165.3" height="121.5" rx="0" fill="none" stroke="#555" stroke-width="1.3"/>
<rect x="209.7" y="832.6" width="165.3" height="121.5" rx="0" fill="none" stroke="#444" stroke-width="1.6"/>
<rect x="257.6" y="710.7" width="74.1" height="42.4" rx="1" fill="none" stroke="#555" stroke-width="1.3"/>
<text x="293.8" y="731" font-size="11" fill="#333" font-weight="normal" text-anchor="middle" letter-spacing="0">电力服务热线</text>
<text x="296.2" y="745.2" font-size="12" fill="#333" font-weight="normal" text-anchor="middle" letter-spacing="0">95598</text>
<rect x="255.5" y="758" width="78.2" height="49" rx="4.5" fill="none" stroke="#555" stroke-width="1.3"/>
<rect x="260.7" y="761.3" width="67.9" height="43.1" rx="3.5" fill="none" stroke="#555" stroke-width="1.4"/>
<path d="M275.9,786.6 Q284,777 292.9,770.5" fill="none" stroke="#666" stroke-width="1"/>
<line x1="279" y1="778.1" x2="284.8" y2="773.4" stroke="#666" stroke-width="1"/>
<line x1="287.5" y1="783.5" x2="293.6" y2="778.6" stroke="#666" stroke-width="1"/>
<rect x="207.4" y="754" width="9.3" height="13.5" rx="1" fill="none" stroke="#555" stroke-width="1.2"/>
<rect x="209.2" y="757.6" width="5.0" height="6.3" rx="0" fill="none" stroke="#444" stroke-width="1.3"/>
<circle cx="217.9" cy="785.2" r="3.6" fill="none" stroke="#4a4a4a" stroke-width="1.2"/>
<line x1="217.9" y1="781.9000000000001" x2="217.9" y2="788.5" stroke="#666" stroke-width="1"/>
<line x1="215" y1="784.7" x2="220.8" y2="784.7" stroke="#888" stroke-width="0.8"/>
<rect x="207.4" y="868.6" width="9.3" height="13.3" rx="1" fill="none" stroke="#555" stroke-width="1.2"/>
<rect x="209.2" y="872.2" width="5.0" height="6.1" rx="0" fill="none" stroke="#444" stroke-width="1.3"/>
<circle cx="217.9" cy="899.8" r="3.6" fill="none" stroke="#4a4a4a" stroke-width="1.2"/>
<line x1="217.9" y1="896.5" x2="217.9" y2="903.0999999999999" stroke="#666" stroke-width="1"/>
<line x1="215" y1="899.3" x2="220.8" y2="899.3" stroke="#888" stroke-width="0.8"/>
<rect x="375.5" y="714.0" width="5.0" height="7.0" rx="2" fill="none" stroke="#555" stroke-width="0.9"/>
<line x1="374" y1="717.5" x2="382" y2="717.5" stroke="#555" stroke-width="0.8"/>
<rect x="375.5" y="815.5" width="5.0" height="7.0" rx="2" fill="none" stroke="#555" stroke-width="0.9"/>
<line x1="374" y1="819" x2="382" y2="819" stroke="#555" stroke-width="0.8"/>
<rect x="375.5" y="837.7" width="5.0" height="7.0" rx="2" fill="none" stroke="#555" stroke-width="0.9"/>
<line x1="374" y1="841.2" x2="382" y2="841.2" stroke="#555" stroke-width="0.8"/>
<rect x="375.5" y="942.7" width="5.0" height="7.0" rx="2" fill="none" stroke="#555" stroke-width="0.9"/>
<line x1="374" y1="946.2" x2="382" y2="946.2" stroke="#555" stroke-width="0.8"/>
<rect x="380" y="725.9" width="3" height="24.1" rx="0" fill="#777" stroke="#555" stroke-width="1.2"/>
<path d="M383,730.2 Q404,733 409.4,751.6 L394.3,751.6 Q390,744 383,744" fill="none" stroke="#555" stroke-width="1"/>
<path d="M290.1,857.4 L321.3,917.6 L259,917.6 Z" fill="none" stroke="#666" stroke-width="1.1"/>
<path d="M288.7,876 L284.8,884.1 L295.8,884.5" fill="none" stroke="#4a4a4a" stroke-width="1.4"/>
<path d="M285.6,885.8 L296.7,886.6 L290,893.3" fill="none" stroke="#555" stroke-width="1.3"/>
<line x1="193.5" y1="673" x2="225.2" y2="673" stroke="#555" stroke-width="1"/>
<line x1="194" y1="669" x2="194" y2="682.5" stroke="#555" stroke-width="1"/>
<line x1="205" y1="669" x2="205" y2="682.5" stroke="#555" stroke-width="1"/>
<line x1="192" y1="675" x2="196" y2="671" stroke="#555" stroke-width="0.8"/>
<line x1="203" y1="675" x2="207" y2="671" stroke="#555" stroke-width="0.8"/>
<text x="210.8" y="671.4" font-size="12.5" fill="#333" font-weight="normal" text-anchor="start" letter-spacing="0">50</text>
<line x1="379.7" y1="673" x2="410.2" y2="673" stroke="#555" stroke-width="1"/>
<line x1="379.7" y1="669" x2="379.7" y2="682.5" stroke="#555" stroke-width="1"/>
<line x1="390.3" y1="669" x2="390.3" y2="682.5" stroke="#555" stroke-width="1"/>
<line x1="377.7" y1="675" x2="381.7" y2="671" stroke="#555" stroke-width="0.8"/>
<line x1="388.3" y1="675" x2="392.3" y2="671" stroke="#555" stroke-width="0.8"/>
<text x="395.8" y="670.6" font-size="12.5" fill="#333" font-weight="normal" text-anchor="start" letter-spacing="0">50</text>
<line x1="171" y1="699.2" x2="171" y2="963.1" stroke="#555" stroke-width="1"/>
<line x1="165.7" y1="699.2" x2="184" y2="699.2" stroke="#555" stroke-width="1"/>
<line x1="167" y1="963.1" x2="192" y2="963.1" stroke="#555" stroke-width="1"/>
<line x1="169" y1="701" x2="173" y2="697" stroke="#555" stroke-width="0.8"/>
<line x1="169" y1="965" x2="173" y2="961" stroke="#555" stroke-width="0.8"/>
<text x="160.8" y="835.6" font-size="12.5" fill="#333" font-weight="normal" text-anchor="start" letter-spacing="0">H</text>
<line x1="204.4" y1="966.9" x2="204.4" y2="984.8" stroke="#555" stroke-width="1"/>
<line x1="381" y1="966.9" x2="381" y2="985.9" stroke="#555" stroke-width="1"/>
<line x1="204.4" y1="981" x2="381" y2="981" stroke="#555" stroke-width="1"/>
<line x1="202.4" y1="983" x2="206.4" y2="979" stroke="#555" stroke-width="0.8"/>
<line x1="379" y1="983" x2="383" y2="979" stroke="#555" stroke-width="0.8"/>
<text x="294.8" y="992.5" font-size="12.5" fill="#333" font-weight="normal" text-anchor="start" letter-spacing="0">L</text>
<text x="142" y="675.4" font-size="12.5" fill="#333" font-weight="normal" text-anchor="start" letter-spacing="0">2</text>
<text x="157.3" y="675.4" font-size="12.5" fill="#333" font-weight="normal" text-anchor="start" letter-spacing="0">3</text>
<path d="M140.8,678.6 L149,678.6 L152.2,681.7 L155.4,678.6 L164,678.6 L206.2,754.8" fill="none" stroke="#555" stroke-width="1"/>
<text x="132.8" y="696" font-size="12.5" fill="#333" font-weight="normal" text-anchor="start" letter-spacing="0">4</text>
<path d="M131.6,697.6 L141.1,697.6 L216.5,784.1" fill="none" stroke="#555" stroke-width="1"/>
<text x="423" y="685" font-size="12.5" fill="#333" font-weight="normal" text-anchor="start" letter-spacing="0">1</text>
<path d="M433.2,686.2 L419.7,686.2 L396.7,744.4" fill="none" stroke="#555" stroke-width="1"/>
<path d="M451.3,700.4 L451.3,688.4 L530.6,681.8 L607.6,688.4 L607.6,700.4 Z" fill="none" stroke="#555" stroke-width="1.3"/>
<rect x="463.6" y="700.4" width="132.7" height="262.2" rx="0" fill="none" stroke="#555" stroke-width="1.3"/>
<line x1="525.6" y1="700.4" x2="525.6" y2="962.6" stroke="#555" stroke-width="1"/>
<rect x="458.2" y="707.2" width="5.4" height="248.8" rx="0" fill="none" stroke="#555" stroke-width="1.4"/>
<rect x="596.3" y="707.2" width="8.0" height="120.7" rx="0" fill="none" stroke="#555" stroke-width="1.4"/>
<rect x="596.3" y="832.3" width="8.0" height="121.6" rx="0" fill="none" stroke="#555" stroke-width="1.4"/>
<rect x="486.2" y="727.9" width="9.9" height="3.2" rx="1.5" fill="#f0f0f0" stroke="#5a5a5a" stroke-width="1.2"/>
<rect x="498.7" y="727.9" width="9.9" height="3.2" rx="1.5" fill="#f0f0f0" stroke="#5a5a5a" stroke-width="1.2"/>
<rect x="486.2" y="733.1999999999999" width="9.9" height="3.2" rx="1.5" fill="#bbb" stroke="#5a5a5a" stroke-width="1.2"/>
<rect x="498.7" y="733.1999999999999" width="9.9" height="3.2" rx="1.5" fill="#bbb" stroke="#5a5a5a" stroke-width="1.2"/>
<rect x="486.2" y="738.5" width="9.9" height="3.2" rx="1.5" fill="#f0f0f0" stroke="#5a5a5a" stroke-width="1.2"/>
<rect x="498.7" y="738.5" width="9.9" height="3.2" rx="1.5" fill="#f0f0f0" stroke="#5a5a5a" stroke-width="1.2"/>
<rect x="486.2" y="743.8" width="9.9" height="3.2" rx="1.5" fill="#bbb" stroke="#5a5a5a" stroke-width="1.2"/>
<rect x="498.7" y="743.8" width="9.9" height="3.2" rx="1.5" fill="#bbb" stroke="#5a5a5a" stroke-width="1.2"/>
<rect x="549.1" y="727.9" width="9.9" height="3.2" rx="1.5" fill="#f0f0f0" stroke="#5a5a5a" stroke-width="1.2"/>
<rect x="561.6" y="727.9" width="9.9" height="3.2" rx="1.5" fill="#f0f0f0" stroke="#5a5a5a" stroke-width="1.2"/>
<rect x="549.1" y="733.1999999999999" width="9.9" height="3.2" rx="1.5" fill="#bbb" stroke="#5a5a5a" stroke-width="1.2"/>
<rect x="561.6" y="733.1999999999999" width="9.9" height="3.2" rx="1.5" fill="#bbb" stroke="#5a5a5a" stroke-width="1.2"/>
<rect x="549.1" y="738.5" width="9.9" height="3.2" rx="1.5" fill="#f0f0f0" stroke="#5a5a5a" stroke-width="1.2"/>
<rect x="561.6" y="738.5" width="9.9" height="3.2" rx="1.5" fill="#f0f0f0" stroke="#5a5a5a" stroke-width="1.2"/>
<rect x="549.1" y="743.8" width="9.9" height="3.2" rx="1.5" fill="#bbb" stroke="#5a5a5a" stroke-width="1.2"/>
<rect x="561.6" y="743.8" width="9.9" height="3.2" rx="1.5" fill="#bbb" stroke="#5a5a5a" stroke-width="1.2"/>
<rect x="486.2" y="904.5" width="9.9" height="3.2" rx="1.5" fill="#f0f0f0" stroke="#5a5a5a" stroke-width="1.2"/>
<rect x="498.7" y="904.5" width="9.9" height="3.2" rx="1.5" fill="#f0f0f0" stroke="#5a5a5a" stroke-width="1.2"/>
<rect x="486.2" y="909.8" width="9.9" height="3.2" rx="1.5" fill="#bbb" stroke="#5a5a5a" stroke-width="1.2"/>
<rect x="498.7" y="909.8" width="9.9" height="3.2" rx="1.5" fill="#bbb" stroke="#5a5a5a" stroke-width="1.2"/>
<rect x="486.2" y="915.1" width="9.9" height="3.2" rx="1.5" fill="#f0f0f0" stroke="#5a5a5a" stroke-width="1.2"/>
<rect x="498.7" y="915.1" width="9.9" height="3.2" rx="1.5" fill="#f0f0f0" stroke="#5a5a5a" stroke-width="1.2"/>
<rect x="486.2" y="920.4" width="9.9" height="3.2" rx="1.5" fill="#bbb" stroke="#5a5a5a" stroke-width="1.2"/>
<rect x="498.7" y="920.4" width="9.9" height="3.2" rx="1.5" fill="#bbb" stroke="#5a5a5a" stroke-width="1.2"/>
<rect x="549.1" y="904.5" width="9.9" height="3.2" rx="1.5" fill="#f0f0f0" stroke="#5a5a5a" stroke-width="1.2"/>
<rect x="561.6" y="904.5" width="9.9" height="3.2" rx="1.5" fill="#f0f0f0" stroke="#5a5a5a" stroke-width="1.2"/>
<rect x="549.1" y="909.8" width="9.9" height="3.2" rx="1.5" fill="#bbb" stroke="#5a5a5a" stroke-width="1.2"/>
<rect x="561.6" y="909.8" width="9.9" height="3.2" rx="1.5" fill="#bbb" stroke="#5a5a5a" stroke-width="1.2"/>
<rect x="549.1" y="915.1" width="9.9" height="3.2" rx="1.5" fill="#f0f0f0" stroke="#5a5a5a" stroke-width="1.2"/>
<rect x="561.6" y="915.1" width="9.9" height="3.2" rx="1.5" fill="#f0f0f0" stroke="#5a5a5a" stroke-width="1.2"/>
<rect x="549.1" y="920.4" width="9.9" height="3.2" rx="1.5" fill="#bbb" stroke="#5a5a5a" stroke-width="1.2"/>
<rect x="561.6" y="920.4" width="9.9" height="3.2" rx="1.5" fill="#bbb" stroke="#5a5a5a" stroke-width="1.2"/>
<rect x="458.40000000000003" y="715.2" width="5.4" height="14" fill="#777"/>
<rect x="459.70000000000005" y="717.0" width="2.8" height="2.2" fill="#ccc"/>
<rect x="459.70000000000005" y="720.4000000000001" width="2.8" height="1.4" fill="#bbb"/>
<rect x="459.70000000000005" y="723.7" width="2.8" height="1.4" fill="#bbb"/>
<rect x="459.70000000000005" y="726.2" width="2.8" height="1.5" fill="#ccc"/>
<line x1="456.1" y1="722.2" x2="465.6" y2="722.2" stroke="#555" stroke-width="1"/>
<rect x="458.40000000000003" y="936.5" width="5.4" height="14" fill="#777"/>
<rect x="459.70000000000005" y="938.3" width="2.8" height="2.2" fill="#ccc"/>
<rect x="459.70000000000005" y="941.7" width="2.8" height="1.4" fill="#bbb"/>
<rect x="459.70000000000005" y="945.0" width="2.8" height="1.4" fill="#bbb"/>
<rect x="459.70000000000005" y="947.5" width="2.8" height="1.5" fill="#ccc"/>
<line x1="456.1" y1="943.5" x2="465.6" y2="943.5" stroke="#555" stroke-width="1"/>
<rect x="597.0999999999999" y="715.2" width="5.4" height="14" fill="#777"/>
<rect x="598.4" y="717.0" width="2.8" height="2.2" fill="#ccc"/>
<rect x="598.4" y="720.4000000000001" width="2.8" height="1.4" fill="#bbb"/>
<rect x="598.4" y="723.7" width="2.8" height="1.4" fill="#bbb"/>
<rect x="598.4" y="726.2" width="2.8" height="1.5" fill="#ccc"/>
<line x1="594.8" y1="722.2" x2="604.3" y2="722.2" stroke="#555" stroke-width="1"/>
<rect x="597.0999999999999" y="809.4" width="5.4" height="14" fill="#777"/>
<rect x="598.4" y="811.1999999999999" width="2.8" height="2.2" fill="#ccc"/>
<rect x="598.4" y="814.6" width="2.8" height="1.4" fill="#bbb"/>
<rect x="598.4" y="817.9" width="2.8" height="1.4" fill="#bbb"/>
<rect x="598.4" y="820.4" width="2.8" height="1.5" fill="#ccc"/>
<line x1="594.8" y1="816.4" x2="604.3" y2="816.4" stroke="#555" stroke-width="1"/>
<rect x="597.0999999999999" y="836.5" width="5.4" height="14" fill="#777"/>
<rect x="598.4" y="838.3" width="2.8" height="2.2" fill="#ccc"/>
<rect x="598.4" y="841.7" width="2.8" height="1.4" fill="#bbb"/>
<rect x="598.4" y="845.0" width="2.8" height="1.4" fill="#bbb"/>
<rect x="598.4" y="847.5" width="2.8" height="1.5" fill="#ccc"/>
<line x1="594.8" y1="843.5" x2="604.3" y2="843.5" stroke="#555" stroke-width="1"/>
<rect x="597.0999999999999" y="935.4" width="5.4" height="14" fill="#777"/>
<rect x="598.4" y="937.1999999999999" width="2.8" height="2.2" fill="#ccc"/>
<rect x="598.4" y="940.6" width="2.8" height="1.4" fill="#bbb"/>
<rect x="598.4" y="943.9" width="2.8" height="1.4" fill="#bbb"/>
<rect x="598.4" y="946.4" width="2.8" height="1.5" fill="#ccc"/>
<line x1="594.8" y1="942.4" x2="604.3" y2="942.4" stroke="#555" stroke-width="1"/>
<path d="M458.4,796.2 L455.29999999999995,796.7 L455.29999999999995,802.7 L458.4,803.2" fill="none" stroke="#555" stroke-width="1.2"/>
<path d="M455.29999999999995,794.7 L452.0,794.2 Q451.0,794.2 451.0,795.2 L451.0,802.7 L455.29999999999995,802.7 Z" fill="none" stroke="#555" stroke-width="1.2"/>
<line x1="452.2" y1="802.7" x2="452.2" y2="806.7" stroke="#555" stroke-width="2"/>
<path d="M604.1,759.5 L607.2,760.0 L607.2,766.0 L604.1,766.5" fill="none" stroke="#555" stroke-width="1.2"/>
<path d="M607.2,758.0 L610.5,757.5 Q611.5,757.5 611.5,758.5 L611.5,766.0 L607.2,766.0 Z" fill="none" stroke="#555" stroke-width="1.2"/>
<line x1="610.3" y1="766.0" x2="610.3" y2="770.0" stroke="#555" stroke-width="2"/>
<path d="M604.1,873.5 L607.2,874.0 L607.2,880.0 L604.1,880.5" fill="none" stroke="#555" stroke-width="1.2"/>
<path d="M607.2,872.0 L610.5,871.5 Q611.5,871.5 611.5,872.5 L611.5,880.0 L607.2,880.0 Z" fill="none" stroke="#555" stroke-width="1.2"/>
<line x1="610.3" y1="880.0" x2="610.3" y2="884.0" stroke="#555" stroke-width="2"/>
<line x1="618.1" y1="683.2" x2="647.1" y2="683.2" stroke="#555" stroke-width="1.2"/>
<line x1="618.1" y1="702.2" x2="647.1" y2="702.2" stroke="#555" stroke-width="1.2"/>
<line x1="641.1" y1="683.2" x2="641.1" y2="702.2" stroke="#555" stroke-width="1.2"/>
<line x1="639.1" y1="685.2" x2="643.1" y2="681.2" stroke="#555" stroke-width="0.9"/>
<line x1="639.1" y1="704.2" x2="643.1" y2="700.2" stroke="#555" stroke-width="0.9"/>
<text x="624" y="681.5" font-size="12.5" fill="#333" font-weight="normal" text-anchor="start" letter-spacing="0">70</text>
<line x1="463.6" y1="967" x2="463.6" y2="985.5" stroke="#555" stroke-width="1"/>
<line x1="596.3" y1="967" x2="596.3" y2="985.5" stroke="#555" stroke-width="1"/>
<line x1="463.6" y1="981.1" x2="596.3" y2="981.1" stroke="#555" stroke-width="1"/>
<line x1="461.6" y1="983.1" x2="465.6" y2="979.1" stroke="#555" stroke-width="0.8"/>
<line x1="594.3" y1="983.1" x2="598.3" y2="979.1" stroke="#555" stroke-width="0.8"/>
<text x="527.6" y="996.4" font-size="13" fill="#333" font-weight="normal" text-anchor="start" letter-spacing="0">W</text>
<rect x="211.7" y="1029.8" width="151.2" height="225.7" rx="0" fill="none" stroke="#555" stroke-width="1.3"/>
<line x1="211.7" y1="1141.5" x2="362.9" y2="1141.5" stroke="#555" stroke-width="1.3"/>
<rect x="274" y="1035.2" width="7.9" height="15.3" rx="0" fill="none" stroke="#555" stroke-width="1"/>
<rect x="276.3" y="1039.0" width="3.3" height="8.0" rx="0" fill="none" stroke="#555" stroke-width="1"/>
<rect x="262.4" y="1048.1" width="7.6" height="15.0" rx="0" fill="none" stroke="#555" stroke-width="1"/>
<rect x="264.7" y="1051.8999999999999" width="3.0" height="7.7" rx="0" fill="none" stroke="#555" stroke-width="1"/>
<rect x="274" y="1062.6" width="7.9" height="15.5" rx="0" fill="none" stroke="#555" stroke-width="1"/>
<rect x="276.3" y="1066.3999999999999" width="3.3" height="8.2" rx="0" fill="none" stroke="#555" stroke-width="1"/>
<rect x="240.2" y="1083.3" width="34.6" height="42.9" rx="0" fill="none" stroke="#555" stroke-width="1"/>
<rect x="245.7" y="1088" width="23.8" height="15.6" rx="0" fill="none" stroke="#555" stroke-width="1.3"/>
<path d="M240.2,1126.2 L235.2,1130.5 L236.2,1130.5 L236.2,1135.7 L279,1135.7 L279,1130.5 L279.8,1130.5 L274.8,1126.2" fill="none" stroke="#555" stroke-width="1"/>
<rect x="286" y="1083.3" width="35.2" height="42.9" rx="0" fill="none" stroke="#555" stroke-width="1"/>
<rect x="291.4" y="1088" width="24.3" height="15.6" rx="0" fill="none" stroke="#555" stroke-width="1.3"/>
<path d="M286,1126.2 L281,1130.5 L281.9,1130.5 L281.9,1135.7 L324.8,1135.7 L324.8,1130.5 L326.2,1130.5 L321.2,1126.2" fill="none" stroke="#555" stroke-width="1"/>
<rect x="336.2" y="1082.1" width="16.7" height="52.4" rx="8.3" fill="none" stroke="#555" stroke-width="1"/>
<rect x="225.5" y="1156.7" width="16.92" height="16.92" rx="0.8" fill="none" stroke="#555" stroke-width="1.1"/>
<line x1="231.332" y1="1156.7" x2="231.332" y2="1173.6200000000001" stroke="#555" stroke-width="1.4"/>
<line x1="236.804" y1="1156.7" x2="236.804" y2="1173.6200000000001" stroke="#555" stroke-width="1.4"/>
<rect x="226.58" y="1164.188" width="14.76" height="3.2" fill="#4a4a4a"/>
<rect x="227.516" y="1164.7640000000001" width="2.304" height="1.152" fill="#ddd"/>
<rect x="232.916" y="1164.7640000000001" width="2.304" height="1.152" fill="#ddd"/>
<rect x="238.244" y="1164.7640000000001" width="2.304" height="1.152" fill="#ddd"/>
<rect x="244.5" y="1156.7" width="16.92" height="16.92" rx="0.8" fill="none" stroke="#555" stroke-width="1.1"/>
<line x1="250.332" y1="1156.7" x2="250.332" y2="1173.6200000000001" stroke="#555" stroke-width="1.4"/>
<line x1="255.804" y1="1156.7" x2="255.804" y2="1173.6200000000001" stroke="#555" stroke-width="1.4"/>
<rect x="245.58" y="1164.188" width="14.76" height="3.2" fill="#4a4a4a"/>
<rect x="246.516" y="1164.7640000000001" width="2.304" height="1.152" fill="#ddd"/>
<rect x="251.916" y="1164.7640000000001" width="2.304" height="1.152" fill="#ddd"/>
<rect x="257.244" y="1164.7640000000001" width="2.304" height="1.152" fill="#ddd"/>
<rect x="262.4" y="1156.7" width="16.92" height="16.92" rx="0.8" fill="none" stroke="#555" stroke-width="1.1"/>
<line x1="268.23199999999997" y1="1156.7" x2="268.23199999999997" y2="1173.6200000000001" stroke="#555" stroke-width="1.4"/>
<line x1="273.70399999999995" y1="1156.7" x2="273.70399999999995" y2="1173.6200000000001" stroke="#555" stroke-width="1.4"/>
<rect x="263.47999999999996" y="1164.188" width="14.76" height="3.2" fill="#4a4a4a"/>
<rect x="264.416" y="1164.7640000000001" width="2.304" height="1.152" fill="#ddd"/>
<rect x="269.816" y="1164.7640000000001" width="2.304" height="1.152" fill="#ddd"/>
<rect x="275.144" y="1164.7640000000001" width="2.304" height="1.152" fill="#ddd"/>
<g class="ns" transform="translate(295,1152.1) scale(0.73) translate(-138.5,-177.1)">
<path d="M138.5,183.4 L139.3,183.4 L139.3,177.1 L146.6,177.1 L146.6,179.5 L150.7,179.5 L150.7,183.4 L153.3,183.4 L153.3,177.1 L159.8,177.1 L159.8,183.4 L161.4,183.4 L161.4,208.8 L159.8,208.8 L159.8,216.5 L153.3,216.5 L153.3,208.8 L150.7,208.8 L150.7,213.3 L146.6,213.3 L146.6,216.5 L139.3,216.5 L139.3,208.8 L138.5,208.8 Z" fill="none" stroke="#4a4a4a" stroke-width="1.2"/>
<path d="M141.2,183.4 L141.2,179.0 L145.0,179.0 L145.0,181.5 L146.6,181.5" fill="none" stroke="#666" stroke-width="0.9"/>
<path d="M155.0,183.4 L155.0,179.0 L158.2,179.0 L158.2,183.4" fill="none" stroke="#666" stroke-width="0.9"/>
<path d="M141.2,208.8 L141.2,214.6 L145.0,214.6 L145.0,211.5 L146.6,211.5" fill="none" stroke="#666" stroke-width="0.9"/>
<path d="M155.0,208.8 L155.0,214.6 L158.2,214.6 L158.2,208.8" fill="none" stroke="#666" stroke-width="0.9"/>
<line x1="138.5" y1="191.9" x2="161.4" y2="191.9" stroke="#4a4a4a" stroke-width="1.3"/>
<line x1="138.5" y1="201.5" x2="161.4" y2="201.5" stroke="#4a4a4a" stroke-width="1.3"/>
<rect x="139.3" y="195.4" width="3.6" height="3.4" rx="0" fill="none" stroke="#444" stroke-width="1.1"/>
<line x1="145.5" y1="183.9" x2="144.5" y2="190.9" stroke="#555" stroke-width="1.1"/>
<line x1="150.0" y1="183.4" x2="150.0" y2="190.9" stroke="#555" stroke-width="1.1"/>
<line x1="144.5" y1="202.4" x2="144.5" y2="208.4" stroke="#555" stroke-width="1.1"/>
<line x1="150.0" y1="202.4" x2="150.0" y2="208.4" stroke="#555" stroke-width="1.1"/>
<circle cx="142.6" cy="179.8" r="0.9" fill="#333"/>
<circle cx="148.2" cy="181.6" r="0.9" fill="#333"/>
<circle cx="156.5" cy="179.8" r="0.9" fill="#333"/>
<circle cx="142.6" cy="213.6" r="0.9" fill="#333"/>
<circle cx="148.2" cy="211.0" r="0.9" fill="#333"/>
<circle cx="156.5" cy="213.6" r="0.9" fill="#333"/>
</g>
<g class="ns" transform="translate(314,1152.1) scale(0.73) translate(-138.5,-177.1)">
<path d="M138.5,183.4 L139.3,183.4 L139.3,177.1 L146.6,177.1 L146.6,179.5 L150.7,179.5 L150.7,183.4 L153.3,183.4 L153.3,177.1 L159.8,177.1 L159.8,183.4 L161.4,183.4 L161.4,208.8 L159.8,208.8 L159.8,216.5 L153.3,216.5 L153.3,208.8 L150.7,208.8 L150.7,213.3 L146.6,213.3 L146.6,216.5 L139.3,216.5 L139.3,208.8 L138.5,208.8 Z" fill="none" stroke="#4a4a4a" stroke-width="1.2"/>
<path d="M141.2,183.4 L141.2,179.0 L145.0,179.0 L145.0,181.5 L146.6,181.5" fill="none" stroke="#666" stroke-width="0.9"/>
<path d="M155.0,183.4 L155.0,179.0 L158.2,179.0 L158.2,183.4" fill="none" stroke="#666" stroke-width="0.9"/>
<path d="M141.2,208.8 L141.2,214.6 L145.0,214.6 L145.0,211.5 L146.6,211.5" fill="none" stroke="#666" stroke-width="0.9"/>
<path d="M155.0,208.8 L155.0,214.6 L158.2,214.6 L158.2,208.8" fill="none" stroke="#666" stroke-width="0.9"/>
<line x1="138.5" y1="191.9" x2="161.4" y2="191.9" stroke="#4a4a4a" stroke-width="1.3"/>
<line x1="138.5" y1="201.5" x2="161.4" y2="201.5" stroke="#4a4a4a" stroke-width="1.3"/>
<rect x="139.3" y="195.4" width="3.6" height="3.4" rx="0" fill="none" stroke="#444" stroke-width="1.1"/>
<line x1="145.5" y1="183.9" x2="144.5" y2="190.9" stroke="#555" stroke-width="1.1"/>
<line x1="150.0" y1="183.4" x2="150.0" y2="190.9" stroke="#555" stroke-width="1.1"/>
<line x1="144.5" y1="202.4" x2="144.5" y2="208.4" stroke="#555" stroke-width="1.1"/>
<line x1="150.0" y1="202.4" x2="150.0" y2="208.4" stroke="#555" stroke-width="1.1"/>
<circle cx="142.6" cy="179.8" r="0.9" fill="#333"/>
<circle cx="148.2" cy="181.6" r="0.9" fill="#333"/>
<circle cx="156.5" cy="179.8" r="0.9" fill="#333"/>
<circle cx="142.6" cy="213.6" r="0.9" fill="#333"/>
<circle cx="148.2" cy="211.0" r="0.9" fill="#333"/>
<circle cx="156.5" cy="213.6" r="0.9" fill="#333"/>
</g>
<g class="ns" transform="translate(333.1,1152.1) scale(0.73) translate(-138.5,-177.1)">
<path d="M138.5,183.4 L139.3,183.4 L139.3,177.1 L146.6,177.1 L146.6,179.5 L150.7,179.5 L150.7,183.4 L153.3,183.4 L153.3,177.1 L159.8,177.1 L159.8,183.4 L161.4,183.4 L161.4,208.8 L159.8,208.8 L159.8,216.5 L153.3,216.5 L153.3,208.8 L150.7,208.8 L150.7,213.3 L146.6,213.3 L146.6,216.5 L139.3,216.5 L139.3,208.8 L138.5,208.8 Z" fill="none" stroke="#4a4a4a" stroke-width="1.2"/>
<path d="M141.2,183.4 L141.2,179.0 L145.0,179.0 L145.0,181.5 L146.6,181.5" fill="none" stroke="#666" stroke-width="0.9"/>
<path d="M155.0,183.4 L155.0,179.0 L158.2,179.0 L158.2,183.4" fill="none" stroke="#666" stroke-width="0.9"/>
<path d="M141.2,208.8 L141.2,214.6 L145.0,214.6 L145.0,211.5 L146.6,211.5" fill="none" stroke="#666" stroke-width="0.9"/>
<path d="M155.0,208.8 L155.0,214.6 L158.2,214.6 L158.2,208.8" fill="none" stroke="#666" stroke-width="0.9"/>
<line x1="138.5" y1="191.9" x2="161.4" y2="191.9" stroke="#4a4a4a" stroke-width="1.3"/>
<line x1="138.5" y1="201.5" x2="161.4" y2="201.5" stroke="#4a4a4a" stroke-width="1.3"/>
<rect x="139.3" y="195.4" width="3.6" height="3.4" rx="0" fill="none" stroke="#444" stroke-width="1.1"/>
<line x1="145.5" y1="183.9" x2="144.5" y2="190.9" stroke="#555" stroke-width="1.1"/>
<line x1="150.0" y1="183.4" x2="150.0" y2="190.9" stroke="#555" stroke-width="1.1"/>
<line x1="144.5" y1="202.4" x2="144.5" y2="208.4" stroke="#555" stroke-width="1.1"/>
<line x1="150.0" y1="202.4" x2="150.0" y2="208.4" stroke="#555" stroke-width="1.1"/>
<circle cx="142.6" cy="179.8" r="0.9" fill="#333"/>
<circle cx="148.2" cy="181.6" r="0.9" fill="#333"/>
<circle cx="156.5" cy="179.8" r="0.9" fill="#333"/>
<circle cx="142.6" cy="213.6" r="0.9" fill="#333"/>
<circle cx="148.2" cy="211.0" r="0.9" fill="#333"/>
<circle cx="156.5" cy="213.6" r="0.9" fill="#333"/>
</g>
<rect x="245" y="1201" width="19.8" height="47.3" rx="0" fill="none" stroke="#555" stroke-width="1.1"/>
<path d="M252.2,1201 L252.2,1197.6 L253.3,1197.6 L253.3,1194.8 L256.6,1194.8 L256.6,1197.6 L257.6,1197.6 L257.6,1201" fill="none" stroke="#555" stroke-width="1.1"/>
<rect x="274" y="1201" width="19.8" height="47.3" rx="0" fill="none" stroke="#555" stroke-width="1.1"/>
<path d="M281.2,1201 L281.2,1197.6 L282.3,1197.6 L282.3,1194.8 L285.6,1194.8 L285.6,1197.6 L286.6,1197.6 L286.6,1201" fill="none" stroke="#555" stroke-width="1.1"/>
<rect x="303.8" y="1201" width="19.8" height="47.3" rx="0" fill="none" stroke="#555" stroke-width="1.1"/>
<path d="M311.0,1201 L311.0,1197.6 L312.1,1197.6 L312.1,1194.8 L315.40000000000003,1194.8 L315.40000000000003,1197.6 L316.40000000000003,1197.6 L316.40000000000003,1201" fill="none" stroke="#555" stroke-width="1.1"/>
<text x="355.2" y="1010.7" font-size="12" fill="#333" font-weight="normal" text-anchor="start" letter-spacing="0">5</text>
<path d="M362.9,1010.7 L351,1010.7 L278.3,1040.5" fill="none" stroke="#555" stroke-width="1"/>
<text x="401.5" y="1010.7" font-size="12" fill="#333" font-weight="normal" text-anchor="start" letter-spacing="0">6</text>
<path d="M412,1010.7 L399.8,1010.7 L297.4,1091.7" fill="none" stroke="#555" stroke-width="1"/>
<text x="382.6" y="1094" font-size="12" fill="#333" font-weight="normal" text-anchor="start" letter-spacing="0">7</text>
<path d="M390.2,1094.8 L379.5,1094.8 L351,1110" fill="none" stroke="#555" stroke-width="1"/>
<text x="179" y="1171.7" font-size="12" fill="#333" font-weight="normal" text-anchor="start" letter-spacing="0">10</text>
<path d="M179.5,1172.9 L191.4,1172.9 L228.3,1161" fill="none" stroke="#555" stroke-width="1"/>
<text x="180.9" y="1213.8" font-size="12" fill="#333" font-weight="normal" text-anchor="start" letter-spacing="0">9</text>
<path d="M179.5,1213.8 L191.4,1213.8 L295,1174" fill="none" stroke="#555" stroke-width="1"/>
<text x="378.5" y="1200.2" font-size="12" fill="#333" font-weight="normal" text-anchor="start" letter-spacing="0">8</text>
<path d="M387.9,1200.7 L376,1200.7 L316.4,1227.6" fill="none" stroke="#555" stroke-width="1"/>
<rect x="417.3" y="1029.5" width="151.4" height="226.6" rx="0" fill="none" stroke="#555" stroke-width="1.3"/>
<rect x="422.3" y="1058.7" width="24.4" height="33.7" rx="0" fill="none" stroke="#555" stroke-width="1"/>
<rect x="431.8" y="1064" width="12.3" height="4" rx="0" fill="none" stroke="#555" stroke-width="1"/>
<rect x="424.90000000000003" y="1072.6" width="5.3" height="17.8" rx="0" fill="none" stroke="#555" stroke-width="1"/>
<rect x="540" y="1058.7" width="24.4" height="33.7" rx="0" fill="none" stroke="#555" stroke-width="1"/>
<rect x="549.5" y="1064" width="12.3" height="4" rx="0" fill="none" stroke="#555" stroke-width="1"/>
<rect x="542.6" y="1072.6" width="5.3" height="17.8" rx="0" fill="none" stroke="#555" stroke-width="1"/>
<rect x="453.7" y="1053.7" width="33.5" height="42.7" rx="0" fill="none" stroke="#555" stroke-width="1"/>
<line x1="453.7" y1="1062.7" x2="487.2" y2="1062.7" stroke="#555" stroke-width="1"/>
<line x1="453.7" y1="1086.5" x2="487.2" y2="1086.5" stroke="#555" stroke-width="1"/>
<rect x="464.59999999999997" y="1065.6" width="13.9" height="18.3" rx="0" fill="none" stroke="#555" stroke-width="1"/>
<rect x="467.9" y="1069.2" width="7.2" height="13.3" rx="0" fill="none" stroke="#555" stroke-width="1"/>
<rect x="500.3" y="1053.7" width="33.5" height="42.7" rx="0" fill="none" stroke="#555" stroke-width="1"/>
<line x1="500.3" y1="1062.7" x2="533.8" y2="1062.7" stroke="#555" stroke-width="1"/>
<line x1="500.3" y1="1086.5" x2="533.8" y2="1086.5" stroke="#555" stroke-width="1"/>
<rect x="511.2" y="1065.6" width="13.9" height="18.3" rx="0" fill="none" stroke="#555" stroke-width="1"/>
<rect x="514.5" y="1069.2" width="7.2" height="13.3" rx="0" fill="none" stroke="#555" stroke-width="1"/>
<rect x="457.6" y="1117.2" width="24.8" height="6.0" rx="3" fill="none" stroke="#555" stroke-width="1"/>
<rect x="507.6" y="1117.2" width="24.8" height="6.0" rx="3" fill="none" stroke="#555" stroke-width="1"/>
<rect x="444.7" y="1159.4" width="40.5" height="32.0" rx="3.6" fill="none" stroke="#555" stroke-width="1.1"/>
<path d="M444.7,1167.95 L452.08,1167.95 L452.8,1165.88 L478.0,1165.88 L478.71999999999997,1167.95 L485.2,1167.95" fill="none" stroke="#555" stroke-width="1.1"/>
<path d="M444.7,1182.6200000000001 L452.08,1182.6200000000001 L452.8,1185.14 L478.0,1185.14 L478.71999999999997,1182.6200000000001 L485.2,1182.6200000000001" fill="none" stroke="#555" stroke-width="1.1"/>
<rect x="455.59" y="1166.7800000000002" width="19.26" height="12.78" rx="0" fill="none" stroke="#555" stroke-width="1.2"/>
<rect x="450.01" y="1152.92" width="6.48" height="6.48" rx="1" fill="none" stroke="#555" stroke-width="1"/>
<rect x="450.01" y="1191.4" width="6.48" height="6.3" rx="1" fill="none" stroke="#555" stroke-width="1"/>
<circle cx="453.25" cy="1156.16" r="0.81" fill="#555"/>
<circle cx="453.25" cy="1194.5500000000002" r="0.81" fill="#555"/>
<rect x="460.81" y="1152.92" width="6.48" height="6.48" rx="1" fill="none" stroke="#555" stroke-width="1"/>
<rect x="460.81" y="1191.4" width="6.48" height="6.3" rx="1" fill="none" stroke="#555" stroke-width="1"/>
<circle cx="464.05" cy="1156.16" r="0.81" fill="#555"/>
<circle cx="464.05" cy="1194.5500000000002" r="0.81" fill="#555"/>
<rect x="472.41999999999996" y="1152.92" width="6.48" height="6.48" rx="1" fill="none" stroke="#555" stroke-width="1"/>
<rect x="472.41999999999996" y="1191.4" width="6.48" height="6.3" rx="1" fill="none" stroke="#555" stroke-width="1"/>
<circle cx="475.65999999999997" cy="1156.16" r="0.81" fill="#555"/>
<circle cx="475.65999999999997" cy="1194.5500000000002" r="0.81" fill="#555"/>
<rect x="499.3" y="1159.4" width="40.5" height="32.0" rx="3.6" fill="none" stroke="#555" stroke-width="1.1"/>
<path d="M499.3,1167.95 L506.68,1167.95 L507.40000000000003,1165.88 L532.5999999999999,1165.88 L533.3199999999999,1167.95 L539.8,1167.95" fill="none" stroke="#555" stroke-width="1.1"/>
<path d="M499.3,1182.6200000000001 L506.68,1182.6200000000001 L507.40000000000003,1185.14 L532.5999999999999,1185.14 L533.3199999999999,1182.6200000000001 L539.8,1182.6200000000001" fill="none" stroke="#555" stroke-width="1.1"/>
<rect x="510.19" y="1166.7800000000002" width="19.26" height="12.78" rx="0" fill="none" stroke="#555" stroke-width="1.2"/>
<rect x="504.61" y="1152.92" width="6.48" height="6.48" rx="1" fill="none" stroke="#555" stroke-width="1"/>
<rect x="504.61" y="1191.4" width="6.48" height="6.3" rx="1" fill="none" stroke="#555" stroke-width="1"/>
<circle cx="507.85" cy="1156.16" r="0.81" fill="#555"/>
<circle cx="507.85" cy="1194.5500000000002" r="0.81" fill="#555"/>
<rect x="515.41" y="1152.92" width="6.48" height="6.48" rx="1" fill="none" stroke="#555" stroke-width="1"/>
<rect x="515.41" y="1191.4" width="6.48" height="6.3" rx="1" fill="none" stroke="#555" stroke-width="1"/>
<circle cx="518.65" cy="1156.16" r="0.81" fill="#555"/>
<circle cx="518.65" cy="1194.5500000000002" r="0.81" fill="#555"/>
<rect x="527.02" y="1152.92" width="6.48" height="6.48" rx="1" fill="none" stroke="#555" stroke-width="1"/>
<rect x="527.02" y="1191.4" width="6.48" height="6.3" rx="1" fill="none" stroke="#555" stroke-width="1"/>
<circle cx="530.26" cy="1156.16" r="0.81" fill="#555"/>
<circle cx="530.26" cy="1194.5500000000002" r="0.81" fill="#555"/>
<text x="581" y="1038.8" font-size="12" fill="#333" font-weight="normal" text-anchor="start" letter-spacing="0">14</text>
<path d="M594,1039.4 L582.6,1039.4 L530,1057.7" fill="none" stroke="#555" stroke-width="1"/>
<text x="584" y="1076.5" font-size="12" fill="#333" font-weight="normal" text-anchor="start" letter-spacing="0">12</text>
<path d="M597.5,1077 L583.6,1077 L554.8,1087.5" fill="none" stroke="#555" stroke-width="1"/>
<text x="585" y="1091.8" font-size="12" fill="#333" font-weight="normal" text-anchor="start" letter-spacing="0">11</text>
<path d="M597.5,1092.4 L583.6,1092.4 L532.4,1120.2" fill="none" stroke="#555" stroke-width="1"/>
<text x="585" y="1227.3" font-size="12" fill="#333" font-weight="normal" text-anchor="start" letter-spacing="0">13</text>
<path d="M598,1228.3 L584.6,1228.3 L537,1181.7" fill="none" stroke="#555" stroke-width="1"/>
</svg>
</body></html>
